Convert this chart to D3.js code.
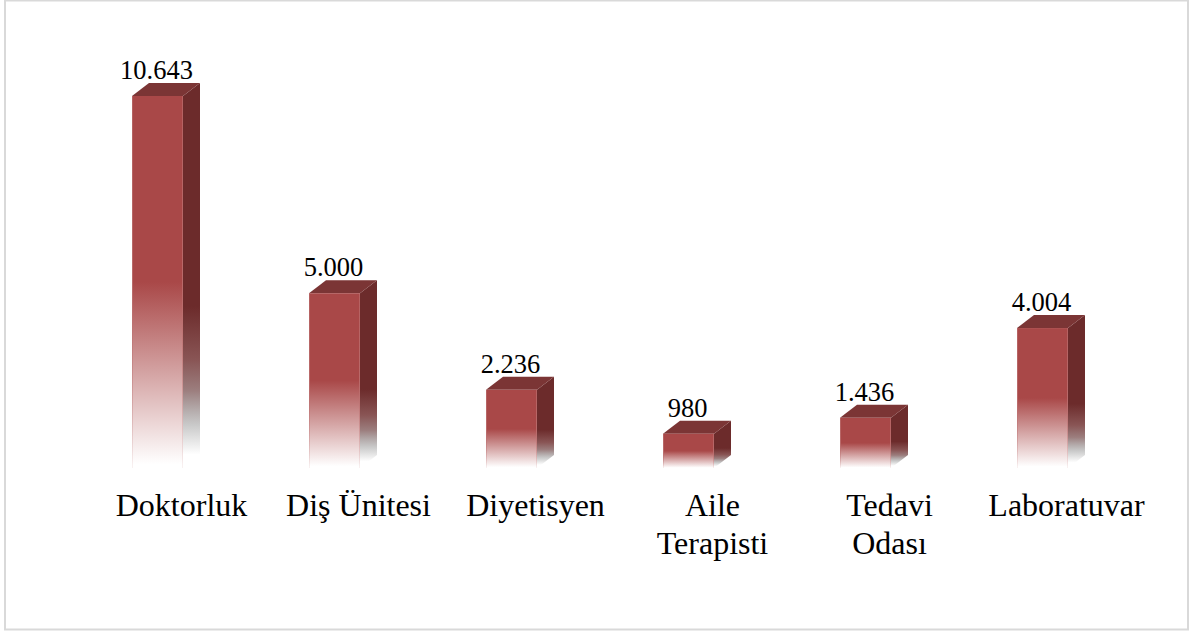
<!DOCTYPE html>
<html>
<head>
<meta charset="utf-8">
<script src="https://cdn.jsdelivr.net/npm/d3@7"></script>
<style>
  html, body { margin: 0; padding: 0; background: #fff; }
  svg { display: block; }
  text { font-family: "Liberation Serif", serif; fill: #000; }
</style>
</head>
<body>
<svg id="chart" width="1190" height="632"></svg>
<script>
var categories = ["Doktorluk", "Diş Ünitesi", "Diyetisyen", "Aile Terapisti", "Tedavi Odası", "Laboratuvar"];
var values = [10643, 5000, 2236, 980, 1436, 4004];
var valueLabels = ["10.643", "5.000", "2.236", "980", "1.436", "4.004"];
var tickLines = [["Doktorluk"], ["Diş Ünitesi"], ["Diyetisyen"], ["Aile", "Terapisti"], ["Tedavi", "Odası"], ["Laboratuvar"]];

var width = 1190;
var height = 632;
var baseY = 468;
var depthX = 17;
var depthY = 13;

var svg = d3.select("#chart");

// outer frame
svg.append("rect")
  .attr("x", 5)
  .attr("y", 0.5)
  .attr("width", 1183)
  .attr("height", 629)
  .attr("fill", "#fff")
  .attr("stroke", "#d9d9d9")
  .attr("stroke-width", 2);

var x = d3.scaleBand()
  .domain(categories)
  .range([69, 1131])
  .paddingInner(126 / 177)
  .paddingOuter(63 / 177);

var y = d3.scaleLinear().domain([0, 10643]).range([baseY, 96]);

// fades to white down each face
var defs = svg.append("defs");
function addFade(id, stops) {
  var g = defs.append("linearGradient")
    .attr("id", id)
    .attr("x1", 0).attr("y1", 0)
    .attr("x2", 0).attr("y2", 1);
  stops.forEach(function (s) {
    g.append("stop")
      .attr("offset", s[0])
      .attr("stop-color", s[1])
      .attr("stop-opacity", s[2]);
  });
}
addFade("frontFade", [[0.5, "#a94848", 1], [0.99, "#a94848", 0]]);
addFade("sideFade", [
  [0.58, "#6c2b2b", 1],
  [0.72, "#6c2b2b", 0.8],
  [0.8, "#603030", 0.62],
  [0.89, "#505050", 0.3],
  [0.965, "#505050", 0]
]);
addFade("edgeFade", [[0, "#bd7272", 0.6], [0.5, "#bd7272", 0.8], [1, "#bd7272", 0.1]]);

var bars = svg.selectAll("g.bar")
  .data(categories)
  .enter()
  .append("g")
  .attr("class", "bar");

function v(i) { return values[i]; }

// side
bars.append("path")
  .attr("fill", "url(#sideFade)")
  .attr("d", function (d, i) {
    var r = x(d) + x.bandwidth();
    var t = y(v(i));
    return "M" + r + "," + t +
      "L" + (r + depthX) + "," + (t - depthY) +
      "L" + (r + depthX) + "," + (baseY - depthY) +
      "L" + r + "," + baseY + "Z";
  });

// top
bars.append("path")
  .attr("fill", "#7b3535")
  .attr("d", function (d, i) {
    var l = x(d);
    var r = l + x.bandwidth();
    var t = y(v(i));
    return "M" + l + "," + t +
      "L" + (l + depthX) + "," + (t - depthY) +
      "L" + (r + depthX) + "," + (t - depthY) +
      "L" + r + "," + t + "Z";
  });

// front
bars.append("rect")
  .attr("x", function (d) { return x(d); })
  .attr("y", function (d, i) { return y(v(i)); })
  .attr("width", x.bandwidth())
  .attr("height", function (d, i) { return baseY - y(v(i)); })
  .attr("fill", "url(#frontFade)");

// pale edges of the front face
[0, 1].forEach(function (side) {
  bars.append("rect")
    .attr("x", function (d) { return x(d) + side * (x.bandwidth() - 1); })
    .attr("y", function (d, i) { return y(v(i)); })
    .attr("width", 1)
    .attr("height", function (d, i) { return baseY - y(v(i)); })
    .attr("fill", "url(#edgeFade)");
});

// value labels
svg.selectAll("text.value")
  .data(categories)
  .enter()
  .append("text")
  .attr("class", "value")
  .attr("x", function (d) { return x(d) + x.bandwidth() / 2 - 1; })
  .attr("y", function (d, i) { return y(v(i)) - 17; })
  .attr("text-anchor", "middle")
  .attr("font-size", 26.5)
  .text(function (d, i) { return valueLabels[i]; });

// category labels, centred on the bar plus its depth
var axis = d3.axisBottom(x).tickSize(0).tickFormat("");
var axisG = svg.append("g")
  .attr("transform", "translate(24,0)")
  .call(axis);
axisG.select(".domain").remove();

var tickText = axisG.selectAll(".tick text")
  .attr("y", 516)
  .attr("dy", null)
  .attr("font-size", 32)
  .attr("font-family", "Liberation Serif, serif");

tickText.each(function (d, i) {
  d3.select(this).selectAll("tspan")
    .data(tickLines[i])
    .enter()
    .append("tspan")
    .attr("x", 0)
    .attr("y", function (t, j) { return 516 + j * 38; })
    .text(function (t) { return t; });
});
</script>
</body>
</html>
